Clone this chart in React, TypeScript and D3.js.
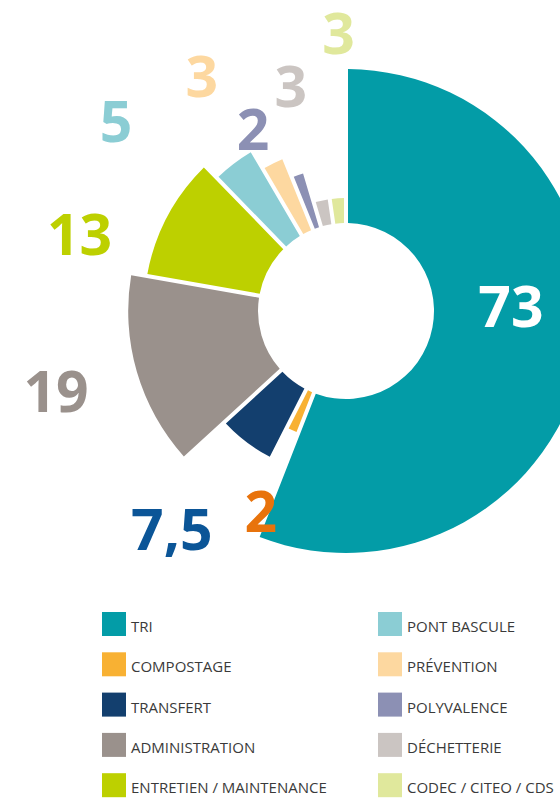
import React from "react";
import * as d3 from "d3";

const categories = [
  "TRI",
  "COMPOSTAGE",
  "TRANSFERT",
  "ADMINISTRATION",
  "ENTRETIEN / MAINTENANCE",
  "PONT BASCULE",
  "PRÉVENTION",
  "POLYVALENCE",
  "DÉCHETTERIE",
  "CODEC / CITEO / CDS",
];
const values = [73, 2, 7.5, 19, 13, 5, 3, 2, 3, 3];
const valueLabels = ["73", "2", "7,5", "19", "13", "5", "3", "2", "3", "3"];
// relative outer extent of each slice (as drawn in the reference)
const extents = [1, 0.54, 0.68, 0.9, 0.835, 0.765, 0.68, 0.595, 0.467, 0.467];

const sliceColors = [
  "#039ca7",
  "#f8b133",
  "#133f6e",
  "#9a918c",
  "#bdd000",
  "#8bcdd4",
  "#fdd8a0",
  "#8c90b4",
  "#cbc5c2",
  "#e0e89c",
];
const labelColors = [
  "#ffffff",
  "#e8730c",
  "#0b5597",
  "#9a918c",
  "#bdd000",
  "#8bcdd4",
  "#fdd8a0",
  "#8c90b4",
  "#cbc5c2",
  "#e0e89c",
];
// label placement: [radius, angle shift in degrees from slice mid-angle]
const labelPlacement: [number, number][] = [
  [163, -12],
  [219, -0.7],
  [281, 1.6],
  [303, 0.7],
  [279, -12.1],
  [299, -13.6],
  [276, -5.8],
  [204, -8.4],
  [231, -1.9],
  [277, 2.2],
];

const W = 560;
const H = 799;
const cx = 346;
const cy = 311;
const innerR = 88;
const maxR = 242;

export default function App() {
  const rScale = d3.scaleLinear().domain([0, 1]).range([0, maxR]);
  const data = values.map((v, i) => ({ v, i }));
  const pie = d3
    .pie<{ v: number; i: number }>()
    .value((d) => d.v)
    .sort(null);
  const arcs = pie(data);
  const arcGen = d3
    .arc<d3.PieArcDatum<{ v: number; i: number }>>()
    .innerRadius(innerR)
    .outerRadius((d) => rScale(extents[d.data.i]))
    .padAngle(0.04)
    .padRadius(100);

  const legendRows = 5;
  return (
    <svg
      width={W}
      height={H}
      style={{ position: "absolute", left: 0, top: 0, background: "#fff" }}
    >
      <g transform={`translate(${cx},${cy})`}>
        {arcs.map((a) => (
          <path key={a.data.i} d={arcGen(a) || ""} fill={sliceColors[a.data.i]} />
        ))}
      </g>
      <g transform={`translate(${cx + 2},${cy})`}>
        {arcs.map((a) => {
          const i = a.data.i;
          const mid = (a.startAngle + a.endAngle) / 2;
          const ang = mid + (labelPlacement[i][1] * Math.PI) / 180;
          const r = labelPlacement[i][0];
          const x = r * Math.sin(ang);
          const y = -r * Math.cos(ang);
          return (
            <text
              key={i}
              x={x}
              y={y + 20}
              textAnchor="middle"
              fontFamily="'Open Sans', sans-serif"
              fontWeight={700}
              fontSize={57}
              fill={labelColors[i]}
            >
              {valueLabels[i]}
            </text>
          );
        })}
      </g>
      <g fontFamily="'Open Sans', sans-serif" fontSize={15} fill="#3a3a3a">
        {categories.map((c, i) => {
          const col = Math.floor(i / legendRows);
          const row = i % legendRows;
          const x = col === 0 ? 102 : 378;
          const y = 612 + row * 40.3;
          return (
            <g key={c}>
              <rect x={x} y={y} width={24} height={24} fill={sliceColors[i]} />
              <text x={x + 29} y={y + 20}>
                {c}
              </text>
            </g>
          );
        })}
      </g>
    </svg>
  );
}
